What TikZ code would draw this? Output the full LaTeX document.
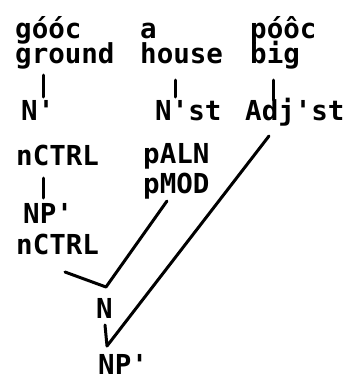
\documentclass[tikz,border=0pt]{standalone}
\usepackage{fontspec}
\newfontfamily\tf{DejaVu Sans Mono}
\newcommand{\q}{\textquotesingle}
\tikzset{
  lbl/.style={anchor=base west, inner sep=0pt, font=\tf\bfseries\fontsize{27.5}{30}\selectfont},
  edge/.style={line width=3pt, line cap=round, line join=round}
}
\begin{document}
\begin{tikzpicture}[x=1pt,y=-1pt]
\useasboundingbox (0,0) rectangle (347,381);
% row 1
\node[lbl] (w1) at (15,38) {góóc};
\node[lbl] (w2) at (140,38) {a};
\node[lbl] (w3) at (250,38) {póôc};
% row 2
\node[lbl] (ground) at (15,63) {ground};
\node[lbl] (house) at (140,63) {house};
\node[lbl] (big) at (250,63) {big};
% row 3
\node[lbl] (Np) at (21,120) {N\q};
\node[lbl] (Nst) at (155,120) {N\q st};
\node[lbl] (Adj) at (245,120) {Adj\q st};
% row 4
\node[lbl] (c1) at (16,165) {nCTRL};
\node[lbl] (paln) at (143,163) {pALN};
\node[lbl] (pmod) at (143,193) {pMOD};
\node[lbl] (NPp) at (23,223) {NP\q};
\node[lbl] (c2) at (16,254) {nCTRL};
\node[lbl] (N) at (96,318) {N};
\node[lbl] (NPb) at (98,374) {NP\q};
% connector end points
\coordinate (a1) at (43,75);  \coordinate (a2) at (43,97);
\coordinate (b1) at (175,80); \coordinate (b2) at (175,97);
\coordinate (d1) at (273,80); \coordinate (d2) at (273,100);
\coordinate (e1) at (43,178); \coordinate (e2) at (43,198);
\coordinate (f1) at (167,201); \coordinate (fv) at (106,287); \coordinate (f2) at (65,272);
\coordinate (g1) at (269,136); \coordinate (gv) at (107,346); \coordinate (g2) at (105,325);
\draw[edge] (a1) -- (a2);
\draw[edge] (b1) -- (b2);
\draw[edge] (d1) -- (d2);
\draw[edge] (e1) -- (e2);
\draw[edge] (f1) -- (fv) -- (f2);
\draw[edge] (g1) -- (gv) -- (g2);
\end{tikzpicture}
\end{document}
